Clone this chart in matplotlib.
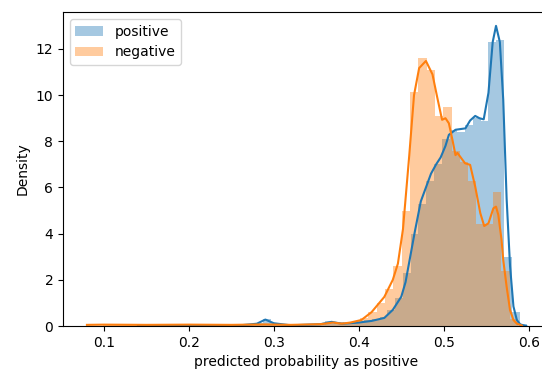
import matplotlib
matplotlib.use("Agg")
import matplotlib.pyplot as plt
import numpy as np

# histogram bins (left edge of first bin, bin width) and densities
pos_start, pos_width = 0.1408, 0.00915
pos_hist = [0.01, 0.01, 0.01, 0.01, 0.01, 0.02, 0.03, 0.02, 0.03, 0.02,
            0.03, 0.02, 0.03, 0.04, 0.03, 0.12, 0.30, 0.12, 0.04, 0.03,
            0.04, 0.03, 0.05, 0.06, 0.20, 0.12, 0.12, 0.15, 0.18, 0.25,
            0.30, 0.40, 0.70, 1.20, 2.30, 4.00, 5.30, 6.30, 7.00, 8.10,
            8.50, 8.40, 8.70, 9.00, 8.90, 12.30, 12.40, 3.00, 0.60, 0.08]

neg_start, neg_width = 0.0984, 0.00978
neg_hist = [0.05, 0.06, 0.05, 0.04, 0.05, 0.06, 0.05, 0.04, 0.05, 0.05,
            0.06, 0.05, 0.04, 0.05, 0.06, 0.05, 0.05, 0.04, 0.05, 0.06,
            0.07, 0.05, 0.04, 0.05, 0.05, 0.06, 0.07, 0.10, 0.16, 0.15,
            0.22, 0.35, 0.60, 1.00, 1.60, 2.60, 5.00, 10.15, 11.60, 11.10,
            9.10, 9.50, 7.60, 7.10, 6.30, 4.40, 4.40, 5.80, 2.40, 0.30]

# kde curves
pos_kde_x = [0.140, 0.200, 0.260, 0.280, 0.290, 0.300, 0.320, 0.355, 0.368, 0.380,
             0.400, 0.415, 0.430, 0.440, 0.450, 0.455, 0.459, 0.466, 0.473, 0.479,
             0.485, 0.491, 0.4963, 0.502, 0.506, 0.5138, 0.5255, 0.531, 0.537, 0.542,
             0.547, 0.5526, 0.5576, 0.5615, 0.566, 0.570, 0.574, 0.578, 0.582, 0.586,
             0.590, 0.597]
pos_kde_y = [0.0, 0.02, 0.03, 0.10, 0.28, 0.12, 0.03, 0.08, 0.18, 0.10,
             0.15, 0.22, 0.35, 0.70, 1.27, 1.90, 2.70, 4.10, 5.40, 6.00,
             6.60, 7.00, 7.30, 7.80, 8.28, 8.50, 8.56, 8.90, 9.10, 9.00,
             8.95, 10.10, 12.30, 13.00, 12.30, 9.80, 5.50, 2.60, 0.85, 0.26,
             0.07, 0.0]

neg_kde_x = [0.080, 0.100, 0.150, 0.200, 0.250, 0.290, 0.320, 0.355, 0.370, 0.380,
             0.390, 0.403, 0.415, 0.430, 0.440, 0.446, 0.452, 0.4594, 0.465, 0.471,
             0.479, 0.4867, 0.4925, 0.498, 0.502, 0.506, 0.510, 0.5138, 0.516, 0.525,
             0.531, 0.537, 0.543, 0.5476, 0.5526, 0.5584, 0.5615, 0.5642, 0.568, 0.570,
             0.574, 0.578, 0.582, 0.586, 0.592]
neg_kde_y = [0.05, 0.06, 0.05, 0.06, 0.05, 0.07, 0.05, 0.08, 0.15, 0.10,
             0.15, 0.26, 0.60, 1.26, 2.00, 2.70, 4.20, 7.40, 10.00, 11.17,
             11.48, 10.90, 9.87, 8.93, 9.00, 8.78, 8.10, 7.40, 7.50, 7.05,
             6.98, 6.04, 4.89, 4.33, 4.45, 5.10, 5.17, 4.81, 3.73, 2.86,
             1.70, 0.69, 0.26, 0.10, 0.02]

blue = "#1f77b4"
orange = "#ff7f0e"

fig = plt.figure(figsize=(5.42, 3.74), dpi=100)
ax = fig.add_axes([0.1162, 0.1283, 0.8985, 0.8396])

pos_edges = pos_start + pos_width * np.arange(len(pos_hist))
neg_edges = neg_start + neg_width * np.arange(len(neg_hist))

ax.bar(pos_edges, pos_hist, width=pos_width, align="edge", color=blue,
       alpha=0.4, linewidth=0, label="positive")
ax.plot(pos_kde_x, pos_kde_y, color=blue, lw=1.5)
ax.bar(neg_edges, neg_hist, width=neg_width, align="edge", color=orange,
       alpha=0.4, linewidth=0, label="negative")
ax.plot(neg_kde_x, neg_kde_y, color=orange, lw=1.5)

ax.set_xlim(0.0518, 0.625)
ax.set_ylim(0, 13.6)
ax.set_xticks([0.1, 0.2, 0.3, 0.4, 0.5, 0.6])
ax.set_yticks([0, 2, 4, 6, 8, 10, 12])
ax.set_xlabel("predicted probability as positive")
ax.set_ylabel("Density")
ax.legend(loc="upper left")

fig.savefig("out.png", dpi=100)
